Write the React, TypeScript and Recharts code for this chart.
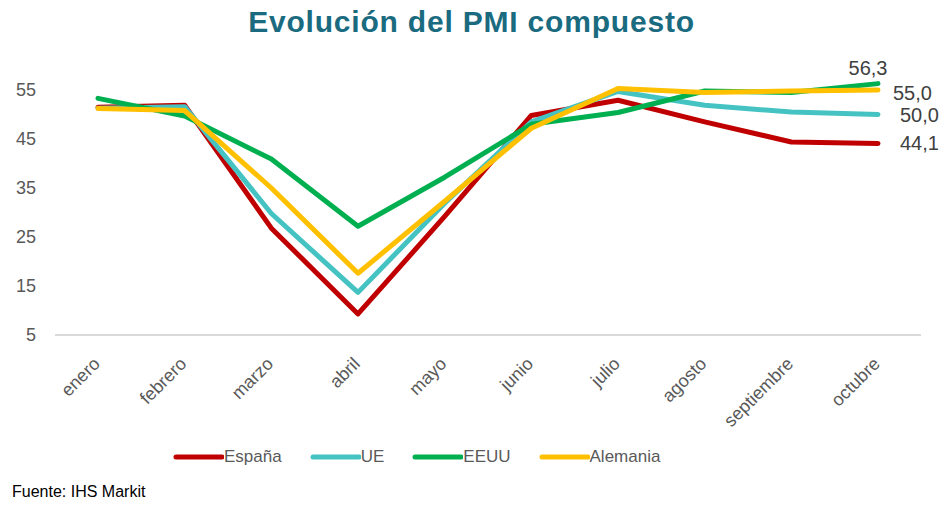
import { LineChart, Line, XAxis, YAxis, LabelList } from 'recharts';

// Composite PMI, 2020
const months = ['enero', 'febrero', 'marzo', 'abril', 'mayo', 'junio', 'julio', 'agosto', 'septiembre', 'octubre'];
const espana = [51.5, 51.9, 26.8, 9.3, 29.2, 49.8, 52.9, 48.5, 44.4, 44.1];
const ue = [51.3, 51.6, 29.8, 13.7, 31.9, 48.5, 54.7, 51.9, 50.5, 50.0];
const eeuu = [53.3, 49.7, 40.9, 27.2, 37.2, 48.0, 50.4, 54.8, 54.5, 56.3];
const alemania = [51.2, 50.8, 35.0, 17.6, 32.3, 47.2, 55.3, 54.5, 54.8, 55.0];
const yTicks = [5, 15, 25, 35, 45, 55];

const series = [
    { key: 'espana', name: 'España', color: '#C00000', dx: 22, dy: 7, anchor: 'start' },
    { key: 'ue', name: 'UE', color: '#45C3C3', dx: 22, dy: 7, anchor: 'start' },
    { key: 'eeuu', name: 'EEUU', color: '#00B050', dx: -10, dy: -9, anchor: 'middle' },
    { key: 'alemania', name: 'Alemania', color: '#FFC000', dx: 15, dy: 10, anchor: 'start' },
];

const data = months.map((m, i) => ({
    month: m,
    espana: espana[i],
    ue: ue[i],
    eeuu: eeuu[i],
    alemania: alemania[i],
}));

const FONT = '"Liberation Sans", Arial, sans-serif';

function MonthTick({ x, y, payload }: any) {
    const ax = x + 3;
    const ay = y + 22;
    return (
        <text x={ax} y={ay} transform={`rotate(-45, ${ax}, ${ay})`} textAnchor="end" fill="#595959" fontSize={18} fontFamily={FONT}>
            {payload.value}
        </text>
    );
}

// only the last point of each series gets a value label
function endLabel(s: (typeof series)[number]) {
    return (props: any) => {
        const { x, y, value, index } = props;
        if (index !== months.length - 1) return null;
        return (
            <text x={x + s.dx} y={y + s.dy} textAnchor={s.anchor} fill="#404040" fontSize={20} fontFamily={FONT}>
                {Number(value).toFixed(1).replace('.', ',')}
            </text>
        );
    };
}

export default function App() {
    return (
        <div style={{ position: 'absolute', left: 0, top: 0, width: 943, height: 506, background: '#fff', fontFamily: FONT }}>
            <div style={{ position: 'absolute', left: 0, top: 5, width: 943, textAlign: 'center', fontSize: 30, letterSpacing: 0.8, fontWeight: 'bold', color: '#1A6B80' }}>
                Evolución del PMI compuesto
            </div>
            <div style={{ position: 'absolute', left: 0, top: 0 }}>
                <LineChart width={943} height={450} data={data} margin={{ top: 65.5, right: 22, left: 10, bottom: 0 }}>
                    <XAxis
                        dataKey="month"
                        height={115}
                        padding={{ left: 43, right: 43 }}
                        tickLine={false}
                        axisLine={{ stroke: '#D9D9D9', strokeWidth: 2 }}
                        interval={0}
                        tick={<MonthTick />}
                    />
                    <YAxis
                        width={45}
                        domain={[5, 60]}
                        ticks={yTicks}
                        axisLine={false}
                        tickLine={false}
                        tickMargin={13}
                        tick={{ fill: '#595959', fontSize: 18, fontFamily: FONT }}
                    />
                    {series.map((s) => (
                        <Line
                            key={s.key}
                            type="linear"
                            dataKey={s.key}
                            name={s.name}
                            stroke={s.color}
                            strokeWidth={5}
                            strokeLinecap="round"
                            strokeLinejoin="round"
                            dot={false}
                            activeDot={false}
                            isAnimationActive={false}
                        >
                            <LabelList dataKey={s.key} content={endLabel(s)} />
                        </Line>
                    ))}
                </LineChart>
            </div>
            <div style={{ position: 'absolute', left: 172, top: 447, display: 'flex', alignItems: 'center', fontSize: 17, color: '#595959' }}>
                {series.map((s) => (
                    <div key={s.key} style={{ display: 'flex', alignItems: 'center', marginRight: 27 }}>
                        <svg width={52} height={10}>
                            <line x1={4} y1={5} x2={50} y2={5} stroke={s.color} strokeWidth={5} strokeLinecap="round" />
                        </svg>
                        <span>{s.name}</span>
                    </div>
                ))}
            </div>
            <div style={{ position: 'absolute', left: 12, top: 483, fontSize: 16, color: '#000' }}>Fuente: IHS Markit</div>
        </div>
    );
}
